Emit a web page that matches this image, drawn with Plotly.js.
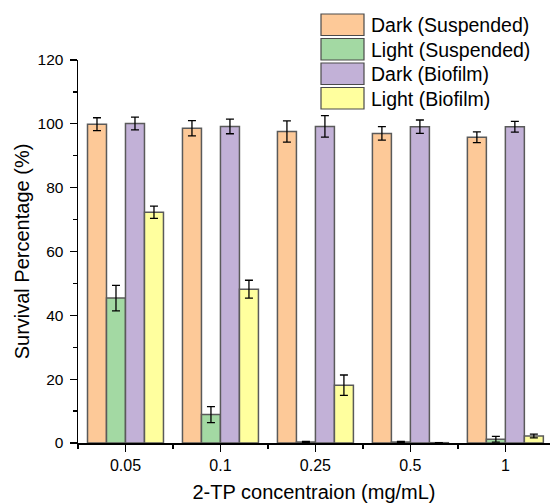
<!DOCTYPE html>
<html>
<head>
<meta charset="utf-8">
<script src="https://cdn.plot.ly/plotly-3.0.1.min.js"></script>
<style>html,body{margin:0;padding:0;background:#fff;}#chart{width:553px;height:503px;}</style>
</head>
<body>
<div id="chart"></div>
<script>
// ---- data ----
var categories = ['0.05', '0.1', '0.25', '0.5', '1'];
var seriesNames = ['Dark (Suspended)', 'Light (Suspended)', 'Dark (Biofilm)', 'Light (Biofilm)'];
var darkSuspended = [99.9, 98.6, 97.6, 97.0, 95.8];
var darkSuspendedErr = [2.0, 2.4, 3.3, 2.1, 1.7];
var lightSuspended = [45.4, 8.9, 0.3, 0.3, 1.2];
var lightSuspendedErr = [4.0, 2.5, 0.2, 0.2, 0.9];
var darkBiofilm = [100.1, 99.2, 99.2, 99.1, 99.1];
var darkBiofilmErr = [2.0, 2.3, 3.35, 2.1, 1.7];
var lightBiofilm = [72.3, 48.2, 18.1, 0.1, 2.2];
var lightBiofilmErr = [1.9, 2.8, 3.2, 0.0, 0.6];
var yTickVals = [0, 20, 40, 60, 80, 100, 120];

// ---- styles ----
var colors = ['#FDC998', '#A3D9A3', '#C2B1D7', '#FFFF9E'];
var values = [darkSuspended, lightSuspended, darkBiofilm, lightBiofilm];
var errors = [darkSuspendedErr, lightSuspendedErr, darkBiofilmErr, lightBiofilmErr];
var xIdx = categories.map(function (c, i) { return i; });

var FONT = 'Liberation Sans, Arial, sans-serif';
var traces = values.map(function (v, k) {
  return {
    type: 'bar',
    name: seriesNames[k],
    x: xIdx,
    y: v,
    marker: { color: colors[k], line: { color: '#5a5a5a', width: 1.5 } },
    error_y: { type: 'data', array: errors[k], visible: true, color: '#000', thickness: 1.3, width: 4 },
    showlegend: false,
    hoverinfo: 'skip'
  };
});

// custom legend (large swatches, like the original)
var L = 78, T = 60, PW = 472, PH = 383;
function px2x(p) { return (p - L) / PW; }
function px2y(p) { return (T + PH - p) / PH; }
var shapes = [], annotations = [];
var rowTop = [14, 38.5, 63, 87.5];
seriesNames.forEach(function (n, k) {
  shapes.push({
    type: 'rect', xref: 'paper', yref: 'paper',
    x0: px2x(321), x1: px2x(364), y0: px2y(rowTop[k]), y1: px2y(rowTop[k] + 21.5),
    fillcolor: colors[k], line: { color: '#4a4a4a', width: 1.2 }
  });
  annotations.push({
    xref: 'paper', yref: 'paper', x: px2x(369), y: px2y(rowTop[k] + 11),
    xanchor: 'left', yanchor: 'middle', showarrow: false,
    text: n, font: { family: FONT, size: 19.5, color: '#000' }
  });
});

var layout = {
  width: 553, height: 503,
  margin: { l: L, r: 3, t: T, b: 503 - T - PH, pad: 0 },
  paper_bgcolor: '#fff', plot_bgcolor: '#fff',
  barmode: 'group', bargap: 0.2, bargroupgap: 0,
  font: { family: FONT, color: '#000' },
  showlegend: false,
  xaxis: {
    type: 'linear', range: [-0.5, 4.47],
    tickvals: xIdx, ticktext: categories,
    ticks: 'outside', ticklen: 7, tickwidth: 1.3, tickcolor: '#000',
    minor: { tick0: 0.5, dtick: 1, ticks: 'outside', ticklen: 4, tickwidth: 1.3, tickcolor: '#000' },
    showline: true, linecolor: '#000', linewidth: 1.5,
    showgrid: false, zeroline: false,
    tickfont: { family: FONT, size: 16, color: '#000' },
    title: { text: '2-TP concentraion (mg/mL)', font: { family: FONT, size: 20, color: '#000' }, standoff: 14 }
  },
  yaxis: {
    range: [0, 120], tickvals: yTickVals,
    ticks: 'outside', ticklen: 7, tickwidth: 1.3, tickcolor: '#000',
    ticklabelstandoff: 3,
    minor: { dtick: 10, ticks: 'outside', ticklen: 4, tickwidth: 1.3, tickcolor: '#000' },
    showline: true, linecolor: '#000', linewidth: 1.5,
    showgrid: false, zeroline: false,
    tickfont: { family: FONT, size: 15.5, color: '#000' },
    title: { text: 'Survival Percentage (%)', font: { family: FONT, size: 20, color: '#000' }, standoff: 2 }
  },
  shapes: shapes,
  annotations: annotations
};

Plotly.newPlot('chart', traces, layout, { displayModeBar: false, staticPlot: true });
</script>
</body>
</html>
